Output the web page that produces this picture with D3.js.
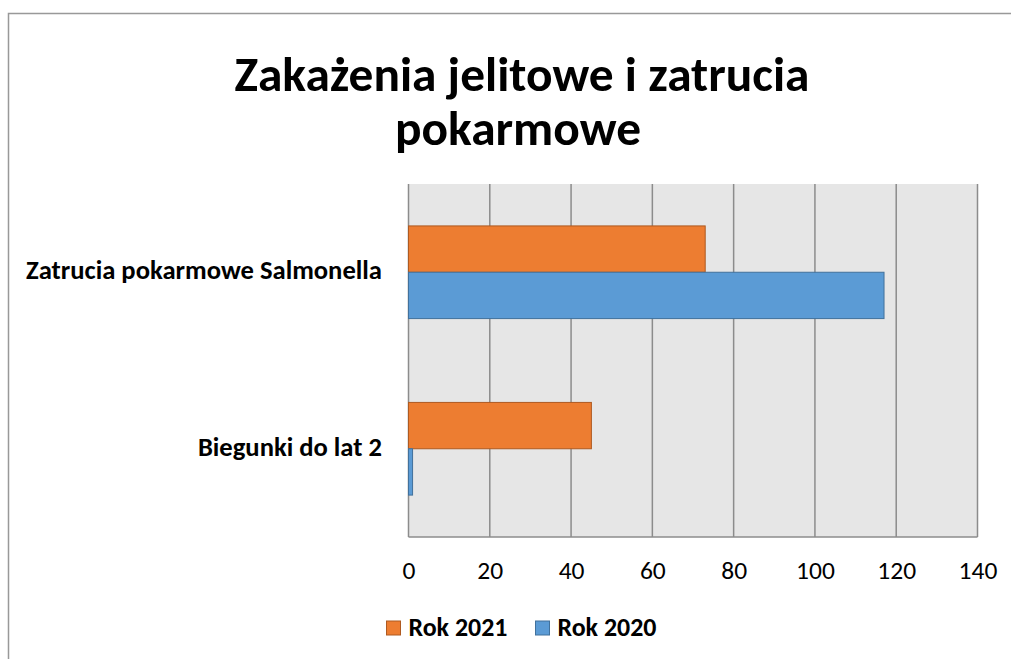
<!DOCTYPE html>
<html>
<head>
<meta charset="utf-8">
<script src="https://cdn.jsdelivr.net/npm/d3@7"></script>
<style>
  body { margin: 0; background: #fff; }
  text { font-family: Calibri, Carlito, "Open Sans", "Noto Sans", sans-serif; }
</style>
</head>
<body>
<div id="chart"></div>
<script>
// data
var categories = ["Zatrucia pokarmowe Salmonella", "Biegunki do lat 2"];
var seriesNames = ["Rok 2021", "Rok 2020"];
var values2021 = [73, 45];
var values2020 = [117, 1];
var xTicks = [0, 20, 40, 60, 80, 100, 120, 140];
var titleLines = ["Zakażenia jelitowe i zatrucia", "pokarmowe"];

var fills = ["#ED7D31", "#5B9BD5"];
var strokes = ["#AE5A21", "#41719C"];

var svgWidth = 1011, svgHeight = 659;
var plot = { left: 408.5, top: 184, right: 977.5, bottom: 537 };

var svg = d3.select("#chart").append("svg")
  .attr("width", svgWidth)
  .attr("height", svgHeight);

// outer frame of the chart
svg.append("rect")
  .attr("x", 8.5).attr("y", 13.5)
  .attr("width", 1020).attr("height", 700)
  .attr("fill", "none")
  .attr("stroke", "#999")
  .attr("stroke-width", 1.5);

// fit text to a target width
function fitWidth(sel, w) {
  var len = sel.node().getComputedTextLength();
  var fs = parseFloat(sel.attr("font-size"));
  sel.attr("font-size", fs * w / len);
}

var title1 = svg.append("text")
  .attr("x", 522).attr("y", 91)
  .attr("text-anchor", "middle")
  .attr("font-weight", "bold")
  .attr("font-size", 40)
  .attr("fill", "#000")
  .text(titleLines[0]);
fitWidth(title1, 575);

var title2 = svg.append("text")
  .attr("x", 518).attr("y", 145)
  .attr("text-anchor", "middle")
  .attr("font-weight", "bold")
  .attr("font-size", title1.attr("font-size"))
  .attr("fill", "#000")
  .text(titleLines[1]);

var xScale = d3.scaleLinear()
  .domain([0, 140])
  .range([plot.left, plot.right]);

var yScale = d3.scaleBand()
  .domain(categories)
  .range([plot.top, plot.bottom])
  .paddingInner(0)
  .paddingOuter(0);

var groupPad = 0.2375;
var barH = yScale.bandwidth() * (1 - 2 * groupPad) / 2;

svg.append("rect")
  .attr("x", plot.left).attr("y", plot.top)
  .attr("width", plot.right - plot.left)
  .attr("height", plot.bottom - plot.top)
  .attr("fill", "#E6E6E6");

// vertical grid lines
svg.append("g")
  .selectAll("line")
  .data(xTicks)
  .enter()
  .append("line")
  .attr("x1", d => xScale(d)).attr("x2", d => xScale(d))
  .attr("y1", plot.top).attr("y2", plot.bottom)
  .attr("stroke", "#8C8C8C")
  .attr("stroke-width", 1.5);

// bottom axis line
svg.append("line")
  .attr("x1", plot.left).attr("x2", plot.right)
  .attr("y1", plot.bottom).attr("y2", plot.bottom)
  .attr("stroke", "#8C8C8C")
  .attr("stroke-width", 1.5);

var series = [values2021, values2020];
series.forEach(function (vals, s) {
  svg.append("g")
    .selectAll("rect")
    .data(categories)
    .enter()
    .append("rect")
    .attr("x", xScale(0))
    .attr("y", (d, i) => yScale(d) + yScale.bandwidth() * groupPad + s * barH)
    .attr("width", (d, i) => xScale(vals[i]) - xScale(0))
    .attr("height", barH)
    .attr("fill", fills[s])
    .attr("stroke", strokes[s])
    .attr("stroke-width", 1);
});

// x tick labels
var xAxis = d3.axisBottom(xScale).tickValues(xTicks).tickSize(0).tickPadding(24);
var gx = svg.append("g")
  .attr("transform", `translate(0, ${plot.bottom})`)
  .call(xAxis);
gx.select(".domain").remove();
gx.attr("font-family", null).attr("font-size", null);
gx.selectAll("text")
  .attr("dy", null)
  .attr("y", 42)
  .attr("font-size", 25.5)
  .attr("fill", "#000");

// category labels
var catLabels = svg.append("g")
  .selectAll("text")
  .data(categories)
  .enter()
  .append("text")
  .attr("x", 382)
  .attr("y", d => yScale(d) + yScale.bandwidth() / 2 + 7)
  .attr("text-anchor", "end")
  .attr("font-weight", "bold")
  .attr("font-size", 20)
  .attr("fill", "#000")
  .text(d => d);
fitWidth(d3.select(catLabels.nodes()[0]), 356);
d3.select(catLabels.nodes()[1]).attr("font-size", d3.select(catLabels.nodes()[0]).attr("font-size"));

// legend
var legendX = [386.5, 535.5];
seriesNames.forEach(function (name, s) {
  svg.append("rect")
    .attr("x", legendX[s]).attr("y", 621)
    .attr("width", 14).attr("height", 14)
    .attr("fill", fills[s])
    .attr("stroke", strokes[s])
    .attr("stroke-width", 1);
  var t = svg.append("text")
    .attr("x", legendX[s] + 22).attr("y", 636)
    .attr("font-weight", "bold")
    .attr("font-size", 20)
    .attr("fill", "#000")
    .text(name);
  fitWidth(t, 99);
});
</script>
</body>
</html>
